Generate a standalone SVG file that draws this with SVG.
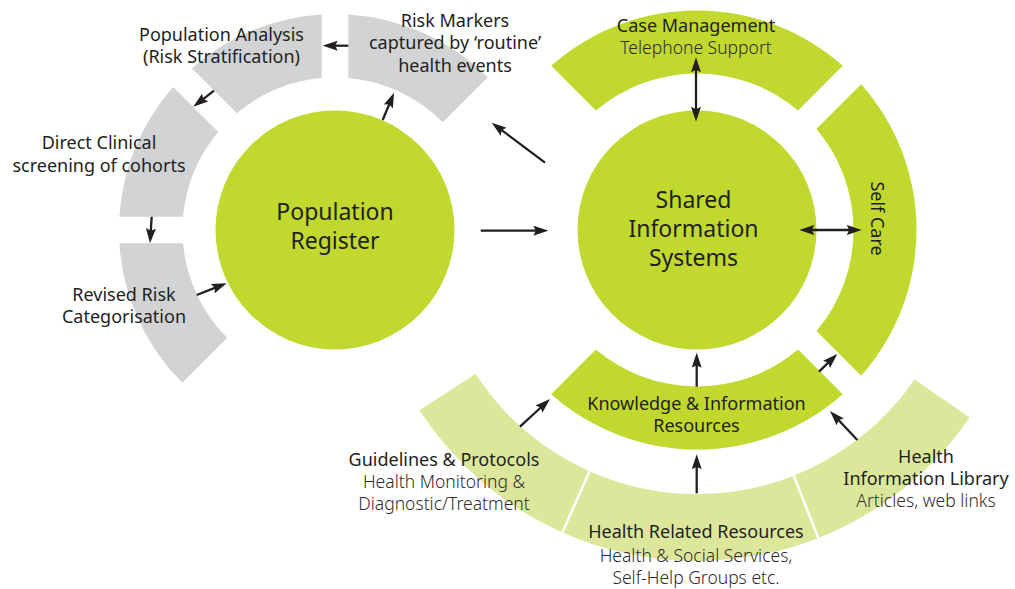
<svg xmlns="http://www.w3.org/2000/svg" width="1015" height="589" viewBox="0 0 1015 589">
<style>
.grey{fill:#d1d3d4}
.green{fill:#c1d82f}
.light{fill:#dde79c}
.t{font-family:"Noto Sans","Open Sans","DejaVu Sans",sans-serif;font-size:18px;fill:#231f20;text-anchor:middle}
.s{font-family:"Noto Sans","Open Sans","DejaVu Sans",sans-serif;font-size:17.5px;font-weight:300;fill:#2e2b2c;text-anchor:middle}
.big{font-family:"Noto Sans","Open Sans","DejaVu Sans",sans-serif;font-size:23px;fill:#231f20;text-anchor:middle}
.arr{stroke:#231f20;stroke-width:2.3;fill:none}
.div{stroke:#ffffff;stroke-width:2.5}
</style>
<defs>
<marker id="ah" viewBox="0 0 15 10" refX="5" refY="5" markerWidth="15" markerHeight="10" markerUnits="userSpaceOnUse" orient="auto-start-reverse">
<path d="M0,0 L15,5 L0,10 L2.5,5 Z" fill="#231f20"/>
</marker>
</defs>
<rect width="1015" height="589" fill="#ffffff"/>

<!-- outer light ring -->
<g id="guidelines">
<path class="light" d="M419.40,410.28 A331,331 0 0 0 562.37,532.39 L589.62,471.18 A264,264 0 0 1 475.59,373.78 Z"/>
<text class="t" x="444" y="466">Guidelines &amp; Protocols</text>
<text class="s" x="444" y="488.3">Health Monitoring &amp;</text>
<text class="s" x="444" y="510.3">Diagnostic/Treatment</text>
</g>
<g id="health-related">
<path class="light" d="M562.37,532.39 A331,331 0 0 0 818.31,537.97 L793.76,475.63 A264,264 0 0 1 589.62,471.18 Z"/>
<text class="t" x="696" y="538.3">Health Related Resources</text>
<text class="s" x="696" y="561.5">Health &amp; Social Services,</text>
<text class="s" x="696" y="583.5">Self-Help Groups etc.</text>
</g>
<g id="health-library">
<path class="light" d="M818.31,537.97 A331,331 0 0 0 969.79,417.48 L914.57,379.53 A264,264 0 0 1 793.76,475.63 Z"/>
<text class="t" x="926" y="462.5">Health</text>
<text class="t" x="926" y="485">Information Library</text>
<text class="s" x="926" y="507">Articles, web links</text>
</g>
<g id="dividers">
<line class="div" x1="562.37" y1="532.39" x2="589.62" y2="471.18"/>
<line class="div" x1="818.31" y1="537.97" x2="793.76" y2="475.63"/>
</g>

<!-- grey ring -->
<g id="revised-risk">
<path class="grey" d="M182.26,382.74 A216,216 0 0 1 119.41,243.30 L183.08,243.29 A152.5,152.5 0 0 0 227.17,337.83 Z"/>
<text class="t" x="124" y="300.7">Revised Risk</text>
<text class="t" x="124" y="323.3">Categorisation</text>
</g>
<g id="direct-clinical">
<path class="grey" d="M119.41,216.70 A216,216 0 0 1 173.16,86.95 L218.18,131.97 A152.5,152.5 0 0 0 183.08,216.71 Z"/>
<text class="t" x="99" y="149">Direct Clinical</text>
<text class="t" x="99" y="171.5">screening of cohorts</text>
</g>
<g id="population-analysis">
<path class="grey" d="M191.95,68.16 A216,216 0 0 1 321.70,14.41 L321.71,78.08 A152.5,152.5 0 0 0 236.97,113.18 Z"/>
<text class="t" x="221.5" y="40.5">Population Analysis</text>
<text class="t" x="221.5" y="63">(Risk Stratification)</text>
</g>
<g id="risk-markers">
<path class="grey" d="M348.30,14.41 A216,216 0 0 1 487.74,77.26 L442.83,122.17 A152.5,152.5 0 0 0 348.29,78.08 Z"/>
<text class="t" x="455" y="26.5">Risk Markers</text>
<text class="t" x="455" y="49">captured by ‘routine’</text>
<text class="t" x="455" y="71.7">health events</text>
</g>
<g id="population-register">
<circle class="green" cx="335" cy="230" r="119.5"/>
<text class="big" x="335" y="219.5">Population</text>
<text class="big" x="335" y="248.5">Register</text>
</g>

<!-- green ring -->
<g id="case-management">
<path class="green" d="M551.25,65.87 A219.5,219.5 0 0 1 842.75,65.87 L798.09,110.53 A156.5,156.5 0 0 0 595.91,110.53 Z"/>
<text class="t" x="696" y="31.5">Case Management</text>
<text class="s" x="696" y="53.5">Telephone Support</text>
</g>
<g id="self-care">
<path class="green" d="M861.13,84.25 A219.5,219.5 0 0 1 861.13,375.75 L816.47,331.09 A156.5,156.5 0 0 0 816.47,128.91 Z"/>
<text class="t" transform="translate(871,218.5) rotate(90)" x="0" y="0">Self Care</text>
</g>
<g id="knowledge">
<path class="green" d="M842.75,394.13 A219.5,219.5 0 0 1 551.25,394.13 L595.91,349.47 A156.5,156.5 0 0 0 798.09,349.47 Z"/>
<text class="t" x="696.5" y="409.5">Knowledge &amp; Information</text>
<text class="t" x="696.5" y="432">Resources</text>
</g>
<g id="shared-information">
<circle class="green" cx="697" cy="230" r="119.5"/>
<text class="big" x="693.5" y="208">Shared</text>
<text class="big" x="693.5" y="237">Information</text>
<text class="big" x="693.5" y="266">Systems</text>
</g>

<g id="connectors" class="arr">
<line x1="348.3" y1="45.7" x2="332.7" y2="45.7" marker-end="url(#ah)"/>
<line x1="214" y1="90.7" x2="201.21" y2="100.58" marker-end="url(#ah)"/>
<line x1="151.7" y1="216.7" x2="150.64" y2="233.32" marker-end="url(#ah)"/>
<line x1="196.7" y1="295" x2="217.38" y2="286.93" marker-end="url(#ah)"/>
<line x1="382.7" y1="120" x2="390.18" y2="101.94" marker-end="url(#ah)"/>
<line x1="545" y1="162.7" x2="499.7" y2="128.7" marker-end="url(#ah)"/>
<line x1="480.7" y1="230.7" x2="538.3" y2="230.7" marker-end="url(#ah)"/>
<line x1="696" y1="67.3" x2="696" y2="111.7" marker-start="url(#ah)" marker-end="url(#ah)"/>
<line x1="809.3" y1="230" x2="851.7" y2="230" marker-start="url(#ah)" marker-end="url(#ah)"/>
<line x1="696.7" y1="386.7" x2="696.7" y2="362.7" marker-end="url(#ah)"/>
<line x1="819" y1="371.7" x2="830.11" y2="360.95" marker-end="url(#ah)"/>
<line x1="696.7" y1="493.3" x2="696.7" y2="464.3" marker-end="url(#ah)"/>
<line x1="520" y1="426.7" x2="542.65" y2="405.78" marker-end="url(#ah)"/>
<line x1="857.3" y1="440" x2="836.85" y2="418.28" marker-end="url(#ah)"/>
</g>
</svg>
